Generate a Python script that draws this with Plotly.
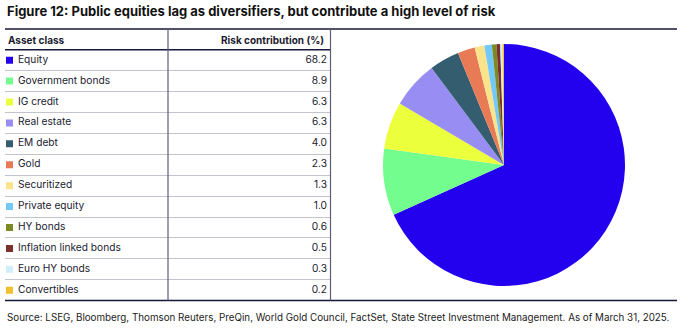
import plotly.graph_objects as go

W, H = 690, 332

categories = ["Equity", "Government bonds", "IG credit", "Real estate", "EM debt", "Gold",
              "Securitized", "Private equity", "HY bonds", "Inflation linked bonds",
              "Euro HY bonds", "Convertibles"]
risk_contribution = [68.2, 8.9, 6.3, 6.3, 4.0, 2.3, 1.3, 1.0, 0.6, 0.5, 0.3, 0.2]
colors = ["#2300EE", "#73FD8E", "#ECFF3C", "#988DF3", "#345E70", "#E87B55",
          "#FAE38A", "#72C8F8", "#7D8A22", "#7B302B", "#D3EEFB", "#F3BF2E"]

title_text = "Figure 12: Public equities lag as diversifiers, but contribute a high level of risk"
header_cols = ["Asset class", "Risk contribution (%)"]
source_text = ("Source: LSEG, Bloomberg, Thomson Reuters, PreQin, World Gold Council, FactSet, "
               "State Street Investment Management. As of March 31, 2025.")

FONT = "Inter, Noto Sans, sans-serif"
TXT = "#1b1b2f"


def px(x):
    return x / W


def py(y):
    return 1 - y / H


fig = go.Figure()

# Pie
fig.add_trace(go.Pie(
    labels=categories, values=risk_contribution, sort=False,
    direction="clockwise", rotation=0,
    marker=dict(colors=colors, line=dict(width=0)),
    textinfo="none", hoverinfo="label+value", showlegend=False,
    domain=dict(x=[px(383), px(625)], y=[py(287), py(43)]),
))

# Table: colour squares
fig.add_trace(go.Scatter(
    x=[9.5] * len(categories), y=categories, mode="markers",
    marker=dict(symbol="square", size=7, color=colors, line=dict(width=0)),
    xaxis="x2", yaxis="y2", showlegend=False, hoverinfo="skip",
))
# Table: labels
fig.add_trace(go.Scatter(
    x=[18] * len(categories), y=categories, mode="text", text=categories,
    textposition="middle right", textfont=dict(family=FONT, size=10.2, color=TXT),
    xaxis="x2", yaxis="y2", showlegend=False, hoverinfo="skip",
))
# Table: values
fig.add_trace(go.Scatter(
    x=[327] * len(categories), y=categories, mode="text",
    text=[f"{v:.1f}" for v in risk_contribution],
    textposition="middle left", textfont=dict(family=FONT, size=10.2, color=TXT),
    xaxis="x2", yaxis="y2", showlegend=False, hoverinfo="skip",
))

n = len(categories)
fig.update_layout(
    width=W, height=H, margin=dict(l=0, r=0, t=0, b=0),
    paper_bgcolor="white", plot_bgcolor="white",
    xaxis2=dict(domain=[px(5), px(330)], range=[5, 330], showgrid=False, zeroline=False,
                showticklabels=False, showline=False, fixedrange=True, anchor="y2"),
    yaxis2=dict(domain=[py(300.7), py(49.7)], type="category", categoryorder="array",
                categoryarray=categories, range=[n - 0.5, -0.5], tickson="boundaries",
                showgrid=True, gridcolor="#c3c3ce", gridwidth=1, zeroline=False,
                showticklabels=False, ticks="", showline=False, fixedrange=True, anchor="x2"),
)

shapes = [
    dict(type="line", xref="paper", yref="paper", x0=px(5), x1=px(677), y0=py(29), y1=py(29),
         line=dict(color="#17173a", width=1.5)),
    dict(type="line", xref="paper", yref="paper", x0=px(5), x1=px(330), y0=py(49.7), y1=py(49.7),
         line=dict(color="#17173a", width=1.5)),
    dict(type="line", xref="paper", yref="paper", x0=px(5), x1=px(677), y0=py(300.5), y1=py(300.5),
         line=dict(color="#17173a", width=1.6)),
    dict(type="line", xref="paper", yref="paper", x0=px(168), x1=px(168), y0=py(29), y1=py(300.5),
         line=dict(color="#5d5d7a", width=1.2)),
    dict(type="line", xref="paper", yref="paper", x0=px(330.5), x1=px(330.5), y0=py(29), y1=py(300.5),
         line=dict(color="#5d5d7a", width=1.2)),
]
fig.update_layout(shapes=shapes)

annotations = [
    dict(text=f"<b>{title_text}</b>", x=px(5), y=py(11), xref="paper", yref="paper",
         xanchor="left", yanchor="middle", showarrow=False,
         font=dict(family=FONT, size=13, color="#111111")),
    dict(text=f"<b>{header_cols[0]}</b>", x=px(6), y=py(40), xref="paper", yref="paper",
         xanchor="left", yanchor="middle", showarrow=False,
         font=dict(family=FONT, size=10, color=TXT)),
    dict(text=f"<b>{header_cols[1]}</b>", x=px(326), y=py(40), xref="paper", yref="paper",
         xanchor="right", yanchor="middle", showarrow=False,
         font=dict(family=FONT, size=10, color=TXT)),
    dict(text=source_text, x=px(5), y=py(317), xref="paper", yref="paper",
         xanchor="left", yanchor="middle", showarrow=False,
         font=dict(family=FONT, size=9.8, color="#222222")),
]
fig.update_layout(annotations=annotations)

fig.write_html("out.html")
